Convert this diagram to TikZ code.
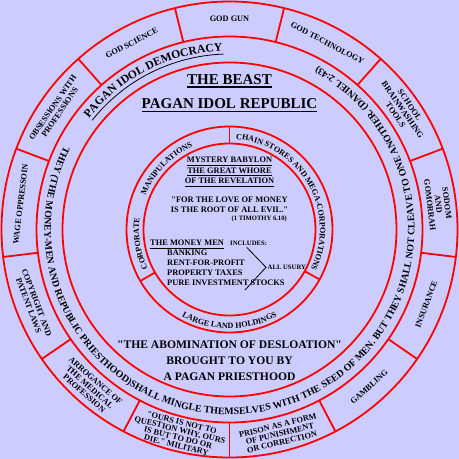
\documentclass[tikz,border=0pt]{standalone}
\usepackage{fontspec}
\setmainfont{Liberation Serif}[Ligatures=TeXOff]
\usetikzlibrary{decorations.text}
\definecolor{lavender}{HTML}{CCCCFF}
\definecolor{ringred}{HTML}{FF0000}
\newcommand{\bandfont}{\bfseries\fontsize{9.9pt}{10pt}\selectfont}
\newcommand{\demofont}{\bfseries\fontsize{11.6pt}{12pt}\selectfont}
\newcommand{\innerfont}{\bfseries\fontsize{8.1pt}{9pt}\selectfont}

\begin{document}
\begin{tikzpicture}[x=1pt, y=1pt,
    ring/.style={draw=ringred, line width=1.8pt},
    cell/.style={font=\bfseries\fontsize{8.3pt}{8.6pt}\selectfont, align=center, inner sep=0pt},
    title/.style={font=\bfseries\fontsize{15pt}{16pt}\selectfont, inner sep=0pt, anchor=base},
    body/.style={font=\bfseries\fontsize{8.4pt}{9pt}\selectfont, inner sep=0pt, anchor=base},
    tiny/.style={font=\bfseries\fontsize{6.7pt}{7pt}\selectfont, inner sep=0pt, anchor=base},
    slogan/.style={font=\bfseries\fontsize{11.6pt}{12pt}\selectfont, inner sep=0pt, anchor=base},
    uline/.style={line width=1.2pt},
    thinline/.style={line width=0.8pt}]
    \useasboundingbox (-229.5,-229.5) rectangle (229.5,229.5);
    \fill[lavender] (-229.5,-229.5) rectangle (229.5,229.5);
    % Rings
    \draw[ring] (0,0) circle[radius=228];
    \draw[ring] (0,0) circle[radius=193];
    \draw[ring] (0,0) circle[radius=167];
    \draw[ring] (0,0) circle[radius=103];
    \draw[ring] (0,0) circle[radius=86];
    % Outer ring cells
    \foreach \k in {0,...,12}
        \draw[ring] ({270+\k*360/13}:193) -- ({270+\k*360/13}:228);
    \node[cell, rotate=13.85] (prison) at (283.85:210.5) {PRISON AS A FORM\\OF PUNISHMENT\\OR CORRECTION};
    \node[cell, rotate=41.54] (gambling) at (311.54:210.5) {GAMBLING};
    \node[cell, rotate=69.23] (insurance) at (339.23:210.5) {INSURANCE};
    \node[cell, rotate=-83.08] (sodom) at (6.92:210.5) {SODOM\\AND\\GOMORRAH};
    \node[cell, rotate=-55.38] (school) at (34.62:210.5) {SCHOOL\\BRAINWASHING\\TOOLS};
    \node[cell, rotate=-27.69] (godtech) at (62.31:210.5) {GOD TECHNOLOGY};
    \node[cell] (godgun) at (90:210.5) {GOD GUN};
    \node[cell, rotate=27.69] (godsci) at (117.69:210.5) {GOD SCIENCE};
    \node[cell, rotate=55.38] (obsess) at (145.38:210.5) {OBSESSIONS WITH\\PROFESSIONS};
    \node[cell, rotate=83.08] (wage) at (173.08:210.5) {WAGE OPPRESSOIN};
    \node[cell, rotate=-69.23] (copyright) at (200.77:210.5) {COPYRIGHT AND\\PATENT LAWS};
    \node[cell, rotate=-41.54] (arrogance) at (228.46:210.5) {ARROGANCE OF\\THE MEDICAL\\PROFESSION};
    \node[cell, rotate=-13.85, font=\bfseries\fontsize{8.3pt}{7.8pt}\selectfont] (military) at (256.15:210.5)
         {"OURS IS NOT TO\\QUESTION WHY, OURS\\IS BUT TO DO OR\\DIE." MILITARY};
    % Middle band
    \path[decorate, decoration={text along path, text align=center,
          text={|\demofont|PAGAN IDOL DEMOCRACY}}]
         (167:179) arc[start angle=167, end angle=67, radius=179];
    \draw[thinline] (141.5:175.5) arc[start angle=141.5, end angle=92, radius=175.5];
    \path[decorate, decoration={text along path, text align=center,
          text={|\bandfont|THEY (THE MONEY-MEN AND REPUBLIC PRIESTHOOD)SHALL MINGLE THEMSELVES WITH THE SEED OF MEN. BUT THEY SHALL NOT CLEAVE TO ONE ANOTHER. (DANIEL 2:43)}}]
         (137.5:185) arc[start angle=137.5, end angle=437.5, radius=185];
    % Inner ring
    \draw[ring] (90:86) -- (90:103);
    \draw[ring] (210:86) -- (210:103);
    \draw[ring] (331:86) -- (331:103);
    \path[decorate, decoration={text along path, text align=center,
          text={|\innerfont|CHAIN STORES AND MEGA-CORPORATIONS}}]
         (100:90.5) arc[start angle=100, end angle=-40, radius=90.5];
    \path[decorate, decoration={text along path, text align=center,
          text={|\innerfont|CORPORATE}}]
         (215:90.5) arc[start angle=215, end angle=163, radius=90.5];
    \path[decorate, decoration={text along path, text align=center,
          text={|\innerfont|MANIPULATIONS}}]
         (170:90.5) arc[start angle=170, end angle=102, radius=90.5];
    \path[decorate, decoration={text along path, text align=center,
          text={|\innerfont|LARGE LAND HOLDINGS}}]
         (220:99) arc[start angle=220, end angle=320, radius=99];
    % Titles
    \node[title] (beast) at (0,145.5) {THE BEAST};
    \node[title] (republic) at (0,121) {PAGAN IDOL REPUBLIC};
    \draw[uline] ([yshift=-3pt]beast.base west) -- ([yshift=-3pt]beast.base east);
    \draw[uline] ([yshift=-3pt]republic.base west) -- ([yshift=-3pt]republic.base east);
    % Centre
    \node[body] (babylon) at (0,66.8) {MYSTERY BABYLON};
    \node[body] (whore) at (0,56.4) {THE GREAT WHORE};
    \node[body] (revel) at (0,46) {OF THE REVELATION};
    \foreach \n in {babylon, whore, revel}
        \draw[thinline] ([yshift=-2.4pt]\n.base west) -- ([yshift=-2.4pt]\n.base east);
    \node[body] (love) at (0,27.2) {"FOR THE LOVE OF MONEY};
    \node[body] (root) at (0,17.2) {IS THE ROOT OF ALL EVIL."};
    \node[tiny, anchor=base east, font=\bfseries\fontsize{6.6pt}{7pt}\selectfont] (timothy) at (57.5,8.8) {(1 TIMOTHY 6.10)};
    \node[body, anchor=base west] (moneymen) at (-79.5,-16) {THE MONEY MEN};
    \draw[thinline] ([yshift=-2.4pt]moneymen.base west) -- ([yshift=-2.4pt]moneymen.base east);
    \node[tiny, anchor=base west] (includes) at (0.5,-15.7) {INCLUDES:};
    \node[body, anchor=base west] (banking) at (-62.5,-25.5) {BANKING};
    \node[body, anchor=base west] (rent) at (-62.5,-36) {RENT-FOR-PROFIT};
    \node[body, anchor=base west] (taxes) at (-62.5,-46.2) {PROPERTY TAXES};
    \node[body, anchor=base west] (stocks) at (-62.5,-56.4) {PURE INVESTMENT STOCKS};
    \node[tiny, anchor=base west] (usury) at (38,-40) {ALL USURY};
    \coordinate (bracetop) at (17.2,-17.8);
    \coordinate (bracetip) at (36.5,-37.8);
    \coordinate (bracebot) at (15.5,-60.5);
    \draw[thinline] (bracetop) -- (bracetip) -- (bracebot);
    % Bottom slogan
    \node[slogan] (abom) at (0,-119.3) {"THE ABOMINATION OF DESLOATION"};
    \node[slogan] (brought) at (0,-135) {BROUGHT TO YOU BY};
    \node[slogan] (priest) at (0,-151) {A PAGAN PRIESTHOOD};
\end{tikzpicture}
\end{document}
